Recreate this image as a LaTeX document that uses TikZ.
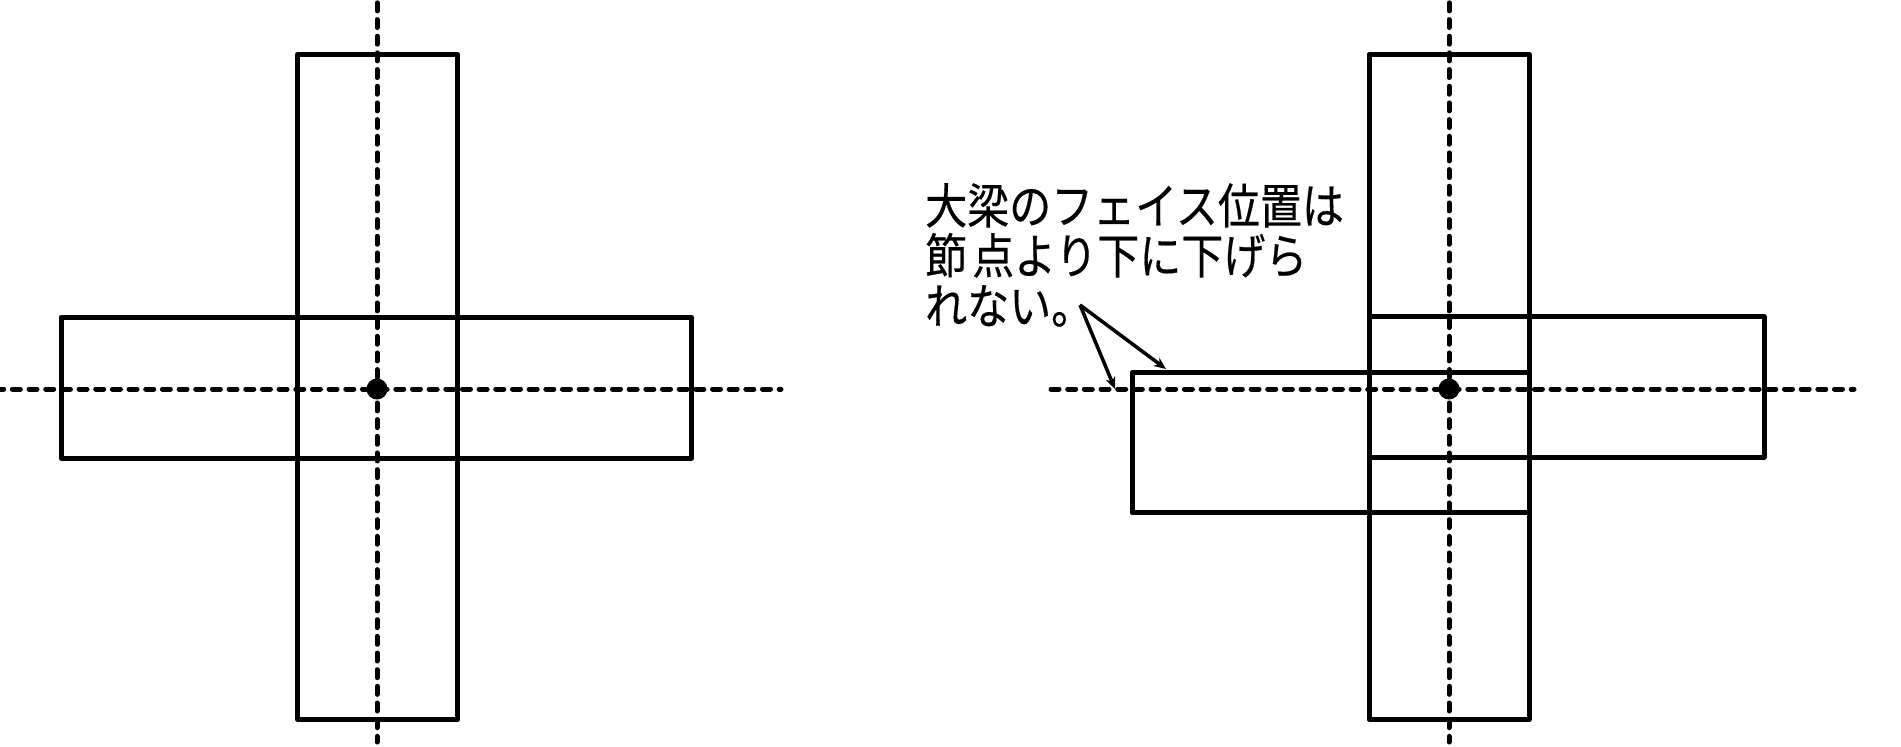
\documentclass[tikz,border=0pt]{standalone}
\usepackage{fontspec}
\newfontfamily\cjk{Noto Sans CJK JP}
\usetikzlibrary{arrows.meta}
\tikzset{
  beam/.style={line width=5pt,line join=round,draw=black},
  axis/.style={line width=5pt,line cap=round,dash pattern=on 8pt off 8.67pt},
  nodept/.style={circle,fill=black,inner sep=0pt,minimum size=21pt},
  leader/.style={line width=3.5pt,-{Stealth[length=12pt,width=10pt]}},
  note/.style={anchor=north west,align=left,inner sep=0pt,yscale=1.15,transform shape,font=\cjk\addfontfeature{FakeBold=0.4}\fontsize{42}{43.5}\selectfont}
}
\begin{document}
\begin{tikzpicture}[x=1pt,y=-1pt]
\useasboundingbox (0,0) rectangle (1901,747);
% left
\draw[beam] (297.5,54.5) rectangle (457.5,719.5);
\draw[beam] (61,317) rectangle (691.5,458);
\draw[axis,dash phase=13.8pt] (377,0) -- (377,742);
\draw[axis,dash phase=4.3pt] (0,389) -- (781,389);
\node[nodept] (n1) at (377,389) {};
% right
\draw[beam] (1369,54.5) rectangle (1529,719.5);
\draw[beam] (1369,316.5) rectangle (1764,457);
\draw[beam] (1132,372.5) rectangle (1529.5,512.5);
\draw[axis,dash phase=13.8pt] (1449,0) -- (1449,742);
\draw[axis] (1051,389) -- (1854,389);
\node[nodept] (n2) at (1449,389) {};
% note
\node[note] (t) at (925,183) {大梁のフェイス位置は\\節\kern5pt 点より下に下げら\\れない。};
\coordinate (s) at (1080,305);
\coordinate (e1) at (1166,369);
\coordinate (e2) at (1115,389);
\draw[leader] (s) -- (e1);
\draw[leader] (s) -- (e2);
\end{tikzpicture}
\end{document}
